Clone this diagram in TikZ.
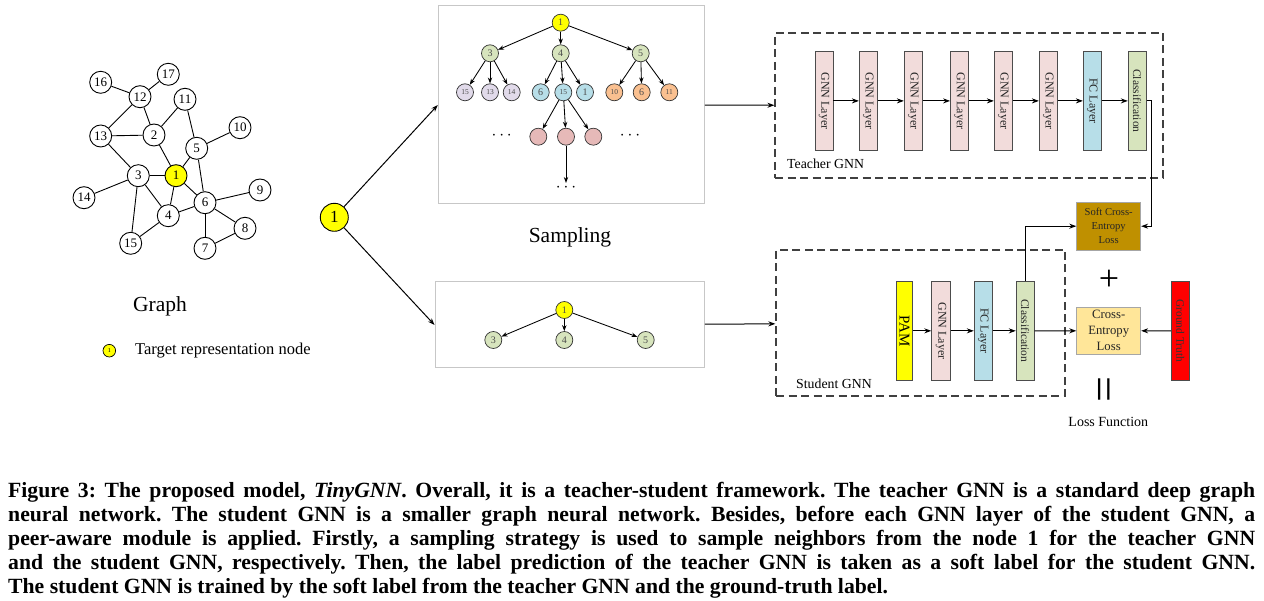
\documentclass[tikz,border=0pt]{standalone}
\usepackage{fontspec}
\setmainfont{Liberation Serif}
\usepackage{xcolor}
\usetikzlibrary{calc,arrows.meta}

\definecolor{tgyellow}{HTML}{FFFF00}
\definecolor{lvgreen}{HTML}{D7E4BD}
\definecolor{lvpurple}{HTML}{E1DAEA}
\definecolor{lvblue}{HTML}{B7DEE8}
\definecolor{lvorange}{HTML}{FAC090}
\definecolor{lvpink}{HTML}{E6B9B8}
\definecolor{gnnpink}{HTML}{F2DCDB}
\definecolor{softloss}{HTML}{BF9000}
\definecolor{hardloss}{HTML}{FFE699}
\definecolor{truthred}{HTML}{FF0000}

\newcommand{\setfs}[1]{\fontsize{#1}{#1}\selectfont}

\tikzset{
  gnode/.style={circle,draw,line width=0.9,minimum size=22,inner sep=0pt,font=\setfs{13}},
  tnode/.style={circle,draw=black!80,line width=0.7,minimum size=17,inner sep=0pt,font=\setfs{10},text=black!70},
  small/.style={font=\setfs{7.5}},
  gedge/.style={line width=0.9},
  tedge/.style={-{Stealth[length=6pt,width=4.4pt]},line width=0.85},
  sampbox/.style={draw=black!22,line width=1,inner sep=0pt},
  dashbox/.style={draw=black!75,line width=1.2,dash pattern=on 8pt off 4.5pt,inner sep=0pt},
  layer/.style={draw=black!70,line width=0.8,rotate=-90,minimum width=98.3,minimum height=18,inner sep=0pt,font=\setfs{12},text=black!85},
  lossbox/.style={draw=black!35,line width=0.8,minimum width=64,inner sep=0pt,align=center},
  flow/.style={-{Stealth[length=7pt,width=5pt]},line width=1}
}

\begin{document}
\begin{tikzpicture}[x=1pt,y=-1pt]
  \useasboundingbox (0,0) rectangle (1264,601);

  \node[gnode] (g16) at (100.7,82.3) {16};
  \node[gnode] (g17) at (168.3,74.3) {17};
  \node[gnode] (g12) at (140,96.7) {12};
  \node[gnode] (g11) at (185,99.3) {11};
  \node[gnode] (g13) at (100.7,136) {13};
  \node[gnode] (g2) at (154,135) {2};
  \node[gnode] (g10) at (240,127.7) {10};
  \node[gnode] (g5) at (196.7,148.3) {5};
  \node[gnode,fill=tgyellow] (g1) at (176,175.7) {1};
  \node[gnode] (g3) at (138.3,175.7) {3};
  \node[gnode] (g14) at (84,197.7) {14};
  \node[gnode] (g6) at (205,202.7) {6};
  \node[gnode] (g9) at (260,190) {9};
  \node[gnode] (g4) at (168.3,215.7) {4};
  \node[gnode] (g8) at (245,228.3) {8};
  \node[gnode] (g15) at (130.7,243.3) {15};
  \node[gnode] (g7) at (205,248.3) {7};
  \foreach \a/\b in {16/12,12/17,12/13,12/2,11/2,13/2,13/3,2/1,5/1,11/5,5/10,5/6,3/1,3/14,3/4,3/15,1/4,1/6,4/6,4/15,6/9,6/8,6/7,7/8}
    \draw[gedge] (g\a) -- (g\b);

  \node[font=\setfs{21.5}] (graphlbl) at (160,306) {Graph};
  \node[gnode,fill=tgyellow,minimum size=12.6,line width=0.7,font=\setfs{6}] (leg) at (109.3,350.7) {1};
  \node[anchor=west,inner sep=0pt,font=\setfs{16.5}] (legtxt) at (135,351) {Target representation node};

  \node[gnode,fill=tgyellow,minimum size=28,font=\setfs{17}] (big) at (334.3,217.3) {1};

  \node[sampbox,minimum width=266,minimum height=198] (tbox) at (571.3,105) {};
  \node[sampbox,minimum width=269.3,minimum height=86] (sbox) at (569.7,325) {};
  \draw[flow] (big) -- (tbox.west);
  \draw[flow] (big) -- (sbox.west);
  \node[font=\setfs{21.5}] (samplbl) at (570,237) {Sampling};

  \node[tnode,fill=tgyellow] (r) at (560.7,22.7) {1};
  \node[tnode,fill=lvgreen] (a3) at (490,53.3) {3};
  \node[tnode,fill=lvgreen] (a4) at (560.7,53.3) {4};
  \node[tnode,fill=lvgreen] (a5) at (640.7,53.3) {5};
  \node[tnode,fill=lvpurple,small] (b1) at (465,92.3) {15};
  \node[tnode,fill=lvpurple,small] (b2) at (490,92.3) {13};
  \node[tnode,fill=lvpurple,small] (b3) at (511.7,92.3) {14};
  \node[tnode,fill=lvblue] (b4) at (540.7,92.3) {6};
  \node[tnode,fill=lvblue,small] (b5) at (563.3,92.3) {15};
  \node[tnode,fill=lvblue] (b6) at (585,92.3) {1};
  \node[tnode,fill=lvorange,small] (b7) at (614.3,92.3) {10};
  \node[tnode,fill=lvorange] (b8) at (641.7,92.3) {6};
  \node[tnode,fill=lvorange,small] (b9) at (669.3,92.3) {11};
  \node[tnode,fill=lvpink] (c1) at (538.3,136.7) {};
  \node[tnode,fill=lvpink] (c2) at (566,136.7) {};
  \node[tnode,fill=lvpink] (c3) at (593.3,136.7) {};
  \node[font=\setfs{18}] (dl) at (501.7,136) {$\cdots$};
  \node[font=\setfs{18}] (dr) at (630,136) {$\cdots$};
  \node[font=\setfs{18},inner sep=1pt] (dd) at (566,188) {$\cdots$};
  \foreach \a/\b in {r/a3,r/a4,r/a5,a3/b1,a3/b2,a3/b3,a4/b4,a4/b5,a4/b6,a5/b7,a5/b8,a5/b9,b5/c1,b5/c2,b5/c3,c2/dd}
    \draw[tedge] (\a) -- (\b);

  \node[tnode,fill=tgyellow] (s1) at (564.3,310) {1};
  \node[tnode,fill=lvgreen] (s3) at (493.3,340) {3};
  \node[tnode,fill=lvgreen] (s4) at (564.3,340) {4};
  \node[tnode,fill=lvgreen] (s5) at (645.7,340) {5};
  \foreach \b in {s3,s4,s5}
    \draw[tedge] (s1) -- (\b);

  \node[dashbox,minimum width=388,minimum height=145] (teach) at (969,105.5) {};
  \node[dashbox,minimum width=289,minimum height=146] (stud) at (920.5,323) {};
  \draw[flow] (tbox) -- (teach);
  \draw[flow] (sbox) -- (stud);
  \node[anchor=west,inner sep=0pt,font=\setfs{13.8}] (teachlbl) at (787,163.3) {Teacher GNN};
  \node[anchor=west,inner sep=0pt,font=\setfs{13.8}] (studlbl) at (796,383.3) {Student GNN};

  \foreach \i/\x in {1/824,2/868.3,3/913.3,4/959.5,5/1003.3,6/1048.3}
    \node[layer,fill=gnnpink] (t\i) at (\x,100.9) {GNN Layer};
  \node[layer,fill=lvblue] (t7) at (1092.3,100.9) {FC Layer};
  \node[layer,fill=lvgreen,font=\setfs{11.5}] (t8) at (1137.2,100.9) {Classification};
  \foreach \i [count=\j from 2] in {1,...,7}
    \draw[flow] (t\i) -- (t\j);

  \node[layer,fill=tgyellow,minimum height=15.6,font=\setfs{15},text=black] (pam) at (904.5,330.85) {PAM};
  \node[layer,fill=gnnpink,minimum height=18.6] (sg) at (941,330.85) {GNN Layer};
  \node[layer,fill=lvblue] (sf) at (983.2,330.85) {FC Layer};
  \node[layer,fill=lvgreen,font=\setfs{11.5}] (sc) at (1025.2,330.85) {Classification};
  \draw[flow] (pam) -- (sg);
  \draw[flow] (sg) -- (sf);
  \draw[flow] (sf) -- (sc);

  \node[lossbox,fill=softloss,minimum height=47.7,font=\fontsize{10.6}{14}\selectfont,text=black!85] (soft) at (1108.7,226.2) {Soft Cross-\\Entropy\\Loss};
  \node[lossbox,fill=hardloss,minimum height=47,font=\fontsize{12.7}{16}\selectfont,text=black!85] (ce) at (1108.7,330.8) {Cross-\\Entropy\\Loss};
  \node[layer,fill=truthred,font=\setfs{11.4},text=black!80] (gt) at (1180.2,330.85) {Ground Truth};
  \draw[flow] (t8.north) -- ++(5,0) |- (soft);
  \draw[flow] (sc.west) |- (soft);
  \draw[flow] (sc) -- (ce);
  \draw[flow] (gt) -- (ce);
  \node[font=\setfs{36}] (plus) at (1109,280.7) {+};
  \node[rotate=90,font=\setfs{46}] (eq) at (1108.5,390) {=};
  \node[font=\setfs{14}] (lossfn) at (1108.3,421.7) {Loss Function};

  \node[anchor=north west,inner sep=0pt,text width=1247pt,align=justify,font=\bfseries\fontsize{21.7}{24}\selectfont] (cap) at (8,482)
  {\frenchspacing\tolerance=9999\hyphenpenalty=10000
  Figure 3: The proposed model, \textit{TinyGNN}. Overall, it is a teacher-student framework. The teacher GNN is a standard deep graph\linebreak
  neural network. The student GNN is a smaller graph neural network. Besides, before each GNN layer of the student GNN, a\linebreak
  peer-aware module is applied. Firstly, a sampling strategy is used to sample neighbors from the node 1 for the teacher GNN\linebreak
  and the student GNN, respectively. Then, the label prediction of the teacher GNN is taken as a soft label for the student GNN.\linebreak
  The student GNN is trained by the soft label from the teacher GNN and the ground-truth label.};
\end{tikzpicture}
\end{document}
